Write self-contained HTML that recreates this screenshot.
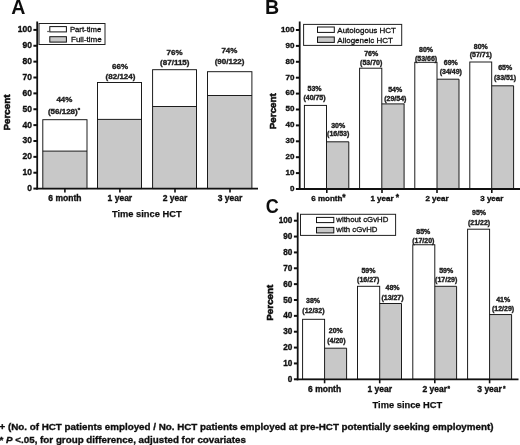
<!DOCTYPE html>
<html><head><meta charset="utf-8"><title>Figure</title>
<style>
html,body{margin:0;padding:0;background:#fff;}
body{width:520px;height:445px;overflow:hidden;font-family:"Liberation Sans",sans-serif;}
svg{display:block;font-family:"Liberation Sans",sans-serif;}
.tk{font-size:8.5px;font-weight:bold;fill:#111;stroke:#111;stroke-width:0.35px;}
.ax{font-size:9.3px;font-weight:bold;fill:#111;stroke:#111;stroke-width:0.25px;}
.pc{font-size:9.8px;stroke-width:0.55px;}
.vl{font-size:8px;font-weight:bold;fill:#1c1c1c;stroke:#1c1c1c;stroke-width:0.38px;}
.vs{font-size:7.0px;font-weight:bold;fill:#1c1c1c;stroke:#1c1c1c;stroke-width:0.38px;}
.lg{font-size:8px;fill:#111;stroke:#111;stroke-width:0.3px;}
.pn{font-size:19.6px;font-weight:bold;fill:#111;}
.fn{font-size:9.8px;font-weight:bold;fill:#111;stroke:#111;stroke-width:0.35px;}
</style></head><body>
<svg width="520" height="445" viewBox="0 0 520 445">
<defs><filter id="soft" x="0" y="0" width="520" height="445" filterUnits="userSpaceOnUse"><feGaussianBlur stdDeviation="0.22"/></filter></defs>
<rect width="520" height="445" fill="#fff"/>
<g>
<rect x="42.8" y="151.1" width="44.20" height="37.50" fill="#c8c8c8"/>
<rect x="42.8" y="119.7" width="44.20" height="68.90" fill="none" stroke="#111" stroke-width="0.95"/>
<line x1="42.8" y1="151.1" x2="87.0" y2="151.1" stroke="#111" stroke-width="0.95"/>
<rect x="97.5" y="119.4" width="44.00" height="69.20" fill="#c8c8c8"/>
<rect x="97.5" y="82.5" width="44.00" height="106.10" fill="none" stroke="#111" stroke-width="0.95"/>
<line x1="97.5" y1="119.4" x2="141.5" y2="119.4" stroke="#111" stroke-width="0.95"/>
<rect x="152.6" y="106.5" width="43.90" height="82.10" fill="#c8c8c8"/>
<rect x="152.6" y="69.7" width="43.90" height="118.90" fill="none" stroke="#111" stroke-width="0.95"/>
<line x1="152.6" y1="106.5" x2="196.5" y2="106.5" stroke="#111" stroke-width="0.95"/>
<rect x="207.5" y="95.5" width="44.40" height="93.10" fill="#c8c8c8"/>
<rect x="207.5" y="71.7" width="44.40" height="116.90" fill="none" stroke="#111" stroke-width="0.95"/>
<line x1="207.5" y1="95.5" x2="251.9" y2="95.5" stroke="#111" stroke-width="0.95"/>
<line x1="37.2" y1="21.5" x2="37.2" y2="189.5" stroke="#111" stroke-width="1.8"/>
<line x1="36.300000000000004" y1="188.6" x2="258" y2="188.6" stroke="#111" stroke-width="1.8"/>
<line x1="33.400000000000006" y1="188.60" x2="37.2" y2="188.60" stroke="#111" stroke-width="2"/>
<line x1="33.400000000000006" y1="172.73" x2="37.2" y2="172.73" stroke="#111" stroke-width="2"/>
<line x1="33.400000000000006" y1="156.86" x2="37.2" y2="156.86" stroke="#111" stroke-width="2"/>
<line x1="33.400000000000006" y1="140.99" x2="37.2" y2="140.99" stroke="#111" stroke-width="2"/>
<line x1="33.400000000000006" y1="125.12" x2="37.2" y2="125.12" stroke="#111" stroke-width="2"/>
<line x1="33.400000000000006" y1="109.25" x2="37.2" y2="109.25" stroke="#111" stroke-width="2"/>
<line x1="33.400000000000006" y1="93.38" x2="37.2" y2="93.38" stroke="#111" stroke-width="2"/>
<line x1="33.400000000000006" y1="77.51" x2="37.2" y2="77.51" stroke="#111" stroke-width="2"/>
<line x1="33.400000000000006" y1="61.64" x2="37.2" y2="61.64" stroke="#111" stroke-width="2"/>
<line x1="33.400000000000006" y1="45.77" x2="37.2" y2="45.77" stroke="#111" stroke-width="2"/>
<line x1="33.400000000000006" y1="29.90" x2="37.2" y2="29.90" stroke="#111" stroke-width="2"/>
<line x1="64.9" y1="188.6" x2="64.9" y2="192.6" stroke="#111" stroke-width="1.6"/>
<line x1="119.9" y1="188.6" x2="119.9" y2="192.6" stroke="#111" stroke-width="1.6"/>
<line x1="175.0" y1="188.6" x2="175.0" y2="192.6" stroke="#111" stroke-width="1.6"/>
<line x1="230.0" y1="188.6" x2="230.0" y2="192.6" stroke="#111" stroke-width="1.6"/>
<rect x="39.0" y="23.5" width="66" height="21" fill="#fff" stroke="#222" stroke-width="1"/>
<rect x="49.8" y="26.6" width="16.6" height="5.3" fill="#fff" stroke="#111" stroke-width="1"/>
<rect x="49.8" y="36.7" width="16.6" height="5.4" fill="#c8c8c8" stroke="#111" stroke-width="1"/>
<rect x="47.4" y="30.9" width="1.3" height="1.2" fill="#222"/>
<rect x="326.5" y="141.8" width="22.30" height="47.20" fill="#c8c8c8"/><rect x="304.4" y="105.4" width="22.10" height="83.60" fill="none" stroke="#111" stroke-width="0.95"/><path d="M326.5 141.8 H348.8 V189.0" fill="none" stroke="#111" stroke-width="0.95"/>
<rect x="381.8" y="103.9" width="22.30" height="85.10" fill="#c8c8c8"/><rect x="359.6" y="68.2" width="22.20" height="120.80" fill="none" stroke="#111" stroke-width="0.95"/><path d="M381.8 103.9 H404.1 V189.0" fill="none" stroke="#111" stroke-width="0.95"/>
<rect x="437.0" y="79.2" width="22.00" height="109.80" fill="#c8c8c8"/><rect x="414.8" y="62.3" width="22.20" height="126.70" fill="none" stroke="#111" stroke-width="0.95"/><path d="M437.0 79.2 H459.0 V189.0" fill="none" stroke="#111" stroke-width="0.95"/>
<rect x="491.7" y="85.8" width="21.90" height="103.20" fill="#c8c8c8"/><rect x="469.8" y="62.0" width="21.90" height="127.00" fill="none" stroke="#111" stroke-width="0.95"/><path d="M491.7 85.8 H513.6 V189.0" fill="none" stroke="#111" stroke-width="0.95"/>
<line x1="299.7" y1="21.5" x2="299.7" y2="189.9" stroke="#111" stroke-width="1.8"/>
<line x1="298.8" y1="189.0" x2="520" y2="189.0" stroke="#111" stroke-width="1.8"/>
<line x1="295.9" y1="189.00" x2="299.7" y2="189.00" stroke="#111" stroke-width="2"/>
<line x1="295.9" y1="173.10" x2="299.7" y2="173.10" stroke="#111" stroke-width="2"/>
<line x1="295.9" y1="157.20" x2="299.7" y2="157.20" stroke="#111" stroke-width="2"/>
<line x1="295.9" y1="141.30" x2="299.7" y2="141.30" stroke="#111" stroke-width="2"/>
<line x1="295.9" y1="125.40" x2="299.7" y2="125.40" stroke="#111" stroke-width="2"/>
<line x1="295.9" y1="109.50" x2="299.7" y2="109.50" stroke="#111" stroke-width="2"/>
<line x1="295.9" y1="93.60" x2="299.7" y2="93.60" stroke="#111" stroke-width="2"/>
<line x1="295.9" y1="77.70" x2="299.7" y2="77.70" stroke="#111" stroke-width="2"/>
<line x1="295.9" y1="61.80" x2="299.7" y2="61.80" stroke="#111" stroke-width="2"/>
<line x1="295.9" y1="45.90" x2="299.7" y2="45.90" stroke="#111" stroke-width="2"/>
<line x1="295.9" y1="30.00" x2="299.7" y2="30.00" stroke="#111" stroke-width="2"/>
<line x1="326.8" y1="189.0" x2="326.8" y2="193.0" stroke="#111" stroke-width="1.6"/>
<line x1="382" y1="189.0" x2="382" y2="193.0" stroke="#111" stroke-width="1.6"/>
<line x1="437" y1="189.0" x2="437" y2="193.0" stroke="#111" stroke-width="1.6"/>
<line x1="491.8" y1="189.0" x2="491.8" y2="193.0" stroke="#111" stroke-width="1.6"/>
<rect x="303.6" y="24.4" width="98.1" height="21" fill="#fff" stroke="#222" stroke-width="1"/>
<rect x="317.5" y="27" width="16.8" height="5.4" fill="#fff" stroke="#111" stroke-width="1"/>
<rect x="317.5" y="37" width="16.8" height="5.4" fill="#c8c8c8" stroke="#111" stroke-width="1"/>
<rect x="324.6" y="348.2" width="22.00" height="31.10" fill="#c8c8c8"/><rect x="302.6" y="319.3" width="22.00" height="60.00" fill="none" stroke="#111" stroke-width="0.95"/><path d="M324.6 348.2 H346.6 V379.3" fill="none" stroke="#111" stroke-width="0.95"/>
<rect x="379.7" y="303.5" width="21.80" height="75.80" fill="#c8c8c8"/><rect x="357.5" y="286.3" width="22.20" height="93.00" fill="none" stroke="#111" stroke-width="0.95"/><path d="M379.7 303.5 H401.5 V379.3" fill="none" stroke="#111" stroke-width="0.95"/>
<rect x="434.8" y="286.3" width="21.80" height="93.00" fill="#c8c8c8"/><rect x="412.8" y="244.75" width="22.00" height="134.55" fill="none" stroke="#111" stroke-width="0.95"/><path d="M434.8 286.3 H456.6 V379.3" fill="none" stroke="#111" stroke-width="0.95"/>
<rect x="489.6" y="314.55" width="22.00" height="64.75" fill="#c8c8c8"/><rect x="467.6" y="229.2" width="22.00" height="150.10" fill="none" stroke="#111" stroke-width="0.95"/><path d="M489.6 314.55 H511.6 V379.3" fill="none" stroke="#111" stroke-width="0.95"/>
<line x1="297.7" y1="212.5" x2="297.7" y2="380.2" stroke="#111" stroke-width="1.8"/>
<line x1="296.8" y1="379.3" x2="518.5" y2="379.3" stroke="#111" stroke-width="1.8"/>
<line x1="293.9" y1="379.30" x2="297.7" y2="379.30" stroke="#111" stroke-width="2"/>
<line x1="293.9" y1="363.44" x2="297.7" y2="363.44" stroke="#111" stroke-width="2"/>
<line x1="293.9" y1="347.58" x2="297.7" y2="347.58" stroke="#111" stroke-width="2"/>
<line x1="293.9" y1="331.72" x2="297.7" y2="331.72" stroke="#111" stroke-width="2"/>
<line x1="293.9" y1="315.86" x2="297.7" y2="315.86" stroke="#111" stroke-width="2"/>
<line x1="293.9" y1="300.00" x2="297.7" y2="300.00" stroke="#111" stroke-width="2"/>
<line x1="293.9" y1="284.14" x2="297.7" y2="284.14" stroke="#111" stroke-width="2"/>
<line x1="293.9" y1="268.28" x2="297.7" y2="268.28" stroke="#111" stroke-width="2"/>
<line x1="293.9" y1="252.42" x2="297.7" y2="252.42" stroke="#111" stroke-width="2"/>
<line x1="293.9" y1="236.56" x2="297.7" y2="236.56" stroke="#111" stroke-width="2"/>
<line x1="293.9" y1="220.70" x2="297.7" y2="220.70" stroke="#111" stroke-width="2"/>
<line x1="324.6" y1="379.3" x2="324.6" y2="383.3" stroke="#111" stroke-width="1.6"/>
<line x1="379.7" y1="379.3" x2="379.7" y2="383.3" stroke="#111" stroke-width="1.6"/>
<line x1="434.8" y1="379.3" x2="434.8" y2="383.3" stroke="#111" stroke-width="1.6"/>
<line x1="489.6" y1="379.3" x2="489.6" y2="383.3" stroke="#111" stroke-width="1.6"/>
<rect x="300.5" y="214.3" width="95.1" height="21.1" fill="#fff" stroke="#222" stroke-width="1"/>
<rect x="316.5" y="217.4" width="17.3" height="5.2" fill="#fff" stroke="#111" stroke-width="1"/>
<rect x="316.5" y="227.4" width="17.3" height="5.5" fill="#c8c8c8" stroke="#111" stroke-width="1"/>
</g>
<g filter="url(#soft)">
<text class="tk" style="font-size:8.5px" x="31.900000000000002" y="191.10" text-anchor="end">0</text>
<text class="tk" style="font-size:8.5px" x="31.900000000000002" y="175.23" text-anchor="end">10</text>
<text class="tk" style="font-size:8.5px" x="31.900000000000002" y="159.36" text-anchor="end">20</text>
<text class="tk" style="font-size:8.5px" x="31.900000000000002" y="143.49" text-anchor="end">30</text>
<text class="tk" style="font-size:8.5px" x="31.900000000000002" y="127.62" text-anchor="end">40</text>
<text class="tk" style="font-size:8.5px" x="31.900000000000002" y="111.75" text-anchor="end">50</text>
<text class="tk" style="font-size:8.5px" x="31.900000000000002" y="95.88" text-anchor="end">60</text>
<text class="tk" style="font-size:8.5px" x="31.900000000000002" y="80.01" text-anchor="end">70</text>
<text class="tk" style="font-size:8.5px" x="31.900000000000002" y="64.14" text-anchor="end">80</text>
<text class="tk" style="font-size:8.5px" x="31.900000000000002" y="48.27" text-anchor="end">90</text>
<text class="tk" style="font-size:8.5px" x="31.900000000000002" y="32.40" text-anchor="end">100</text>
<text class="tk" style="font-size:8.5px" x="64.9" y="201.0" text-anchor="middle">6 month</text>
<text class="tk" style="font-size:8.5px" x="119.9" y="201.0" text-anchor="middle">1 year</text>
<text class="tk" style="font-size:8.5px" x="175.0" y="201.0" text-anchor="middle">2 year</text>
<text class="tk" style="font-size:8.5px" x="230.0" y="201.0" text-anchor="middle">3 year</text>
<text class="vl" x="64.4" y="102.46" text-anchor="middle">44%</text>
<text class="vl" x="64.0" y="114.16" text-anchor="middle">(56/128)<tspan dy="-2.4" font-size="6">*</tspan></text>
<text class="vl" x="120.1" y="68.56" text-anchor="middle">66%</text>
<text class="vl" x="120.5" y="78.76" text-anchor="middle">(82/124)</text>
<text class="vl" x="174.5" y="55.46" text-anchor="middle">76%</text>
<text class="vl" x="174.8" y="65.46" text-anchor="middle">(87/115)</text>
<text class="vl" x="229.4" y="53.31" text-anchor="middle">74%</text>
<text class="vl" x="229.6" y="63.51" text-anchor="middle">(90/122)</text>
<text class="lg" style="font-size:7.75px" x="69.9" y="32.3">Part-time</text>
<text class="lg" x="71" y="42.4">Full-time</text>
<text class="ax" x="146.8" y="217.2" text-anchor="middle">Time since HCT</text>
<text class="ax pc" transform="translate(10.4,112.5) rotate(-90)" text-anchor="middle">Percent</text>
<text class="pn" x="11.2" y="13.6">A</text>
<text class="tk" style="font-size:8.0px" x="294.4" y="190.80" text-anchor="end">0</text>
<text class="tk" style="font-size:8.0px" x="294.4" y="174.90" text-anchor="end">10</text>
<text class="tk" style="font-size:8.0px" x="294.4" y="159.00" text-anchor="end">20</text>
<text class="tk" style="font-size:8.0px" x="294.4" y="143.10" text-anchor="end">30</text>
<text class="tk" style="font-size:8.0px" x="294.4" y="127.20" text-anchor="end">40</text>
<text class="tk" style="font-size:8.0px" x="294.4" y="111.30" text-anchor="end">50</text>
<text class="tk" style="font-size:8.0px" x="294.4" y="95.40" text-anchor="end">60</text>
<text class="tk" style="font-size:8.0px" x="294.4" y="79.50" text-anchor="end">70</text>
<text class="tk" style="font-size:8.0px" x="294.4" y="63.60" text-anchor="end">80</text>
<text class="tk" style="font-size:8.0px" x="294.4" y="47.70" text-anchor="end">90</text>
<text class="tk" style="font-size:8.0px" x="294.4" y="31.80" text-anchor="end">100</text>
<text class="tk" style="font-size:8.0px" x="326.8" y="201.2" text-anchor="middle">6 month</text>
<text class="tk" style="font-size:8.0px" x="382" y="201.2" text-anchor="middle">1 year</text>
<text class="tk" style="font-size:8.0px" x="437" y="201.2" text-anchor="middle">2 year</text>
<text class="tk" style="font-size:8.0px" x="491.8" y="201.2" text-anchor="middle">3 year</text>
<text class="tk" style="font-size:8.5px" x="344" y="199.6" text-anchor="middle">*</text>
<text class="tk" style="font-size:8.5px" x="397.3" y="199.6" text-anchor="middle">*</text>
<text class="vs" x="314.5" y="91.21" text-anchor="middle">53%</text>
<text class="vs" x="314.5" y="99.86" text-anchor="middle">(40/75)</text>
<text class="vs" x="338.2" y="127.61" text-anchor="middle">30%</text>
<text class="vs" x="338.2" y="135.91" text-anchor="middle">(16/53)</text>
<text class="vs" x="371.2" y="56.36" text-anchor="middle">76%</text>
<text class="vs" x="371.2" y="65.41" text-anchor="middle">(53/70)</text>
<text class="vs" x="395.2" y="92.01" text-anchor="middle">54%</text>
<text class="vs" x="395.3" y="100.56" text-anchor="middle">(29/54)</text>
<text class="vs" x="426.1" y="51.71" text-anchor="middle">80%</text>
<text class="vs" x="426.1" y="60.61" text-anchor="middle">(53/66)</text>
<text class="vs" x="450.8" y="65.21" text-anchor="middle">69%</text>
<text class="vs" x="450.8" y="74.41" text-anchor="middle">(34/49)</text>
<text class="vs" x="480.8" y="48.81" text-anchor="middle">80%</text>
<text class="vs" x="480.8" y="57.41" text-anchor="middle">(57/71)</text>
<text class="vs" x="505.2" y="70.36" text-anchor="middle">65%</text>
<text class="vs" x="505.0" y="79.61" text-anchor="middle">(33/51)</text>
<text class="lg" x="337.3" y="32.7">Autologous HCT</text>
<text class="lg" x="337.3" y="42.7">Allogeneic HCT</text>
<text class="ax pc" transform="translate(276.0,111.2) rotate(-90)" text-anchor="middle">Percent</text>
<text class="pn" x="265" y="13.8">B</text>
<text class="tk" style="font-size:8.2px" x="292.4" y="381.80" text-anchor="end">0</text>
<text class="tk" style="font-size:8.2px" x="292.4" y="365.94" text-anchor="end">10</text>
<text class="tk" style="font-size:8.2px" x="292.4" y="350.08" text-anchor="end">20</text>
<text class="tk" style="font-size:8.2px" x="292.4" y="334.22" text-anchor="end">30</text>
<text class="tk" style="font-size:8.2px" x="292.4" y="318.36" text-anchor="end">40</text>
<text class="tk" style="font-size:8.2px" x="292.4" y="302.50" text-anchor="end">50</text>
<text class="tk" style="font-size:8.2px" x="292.4" y="286.64" text-anchor="end">60</text>
<text class="tk" style="font-size:8.2px" x="292.4" y="270.78" text-anchor="end">70</text>
<text class="tk" style="font-size:8.2px" x="292.4" y="254.92" text-anchor="end">80</text>
<text class="tk" style="font-size:8.2px" x="292.4" y="239.06" text-anchor="end">90</text>
<text class="tk" style="font-size:8.2px" x="292.4" y="223.20" text-anchor="end">100</text>
<text class="tk" style="font-size:8.5px" x="324.6" y="391.7" text-anchor="middle">6 month</text>
<text class="tk" style="font-size:8.5px" x="379.7" y="391.7" text-anchor="middle">1 year</text>
<text class="tk" style="font-size:8.5px" x="434.8" y="391.7" text-anchor="middle">2 year</text>
<text class="tk" style="font-size:8.5px" x="489.6" y="391.7" text-anchor="middle">3 year</text>
<text class="tk" style="font-size:6.5px" x="448.8" y="391.1" text-anchor="middle">*</text>
<text class="tk" style="font-size:6.5px" x="504.2" y="391.1" text-anchor="middle">*</text>
<text class="vs" x="313" y="303.46" text-anchor="middle">38%</text>
<text class="vs" x="313.4" y="313.11" text-anchor="middle">(12/32)</text>
<text class="vs" x="335.8" y="333.41" text-anchor="middle">20%</text>
<text class="vs" x="336.4" y="342.81" text-anchor="middle">(4/20)</text>
<text class="vs" x="368.4" y="273.46" text-anchor="middle">59%</text>
<text class="vs" x="368.2" y="282.11" text-anchor="middle">(16/27)</text>
<text class="vs" x="392.5" y="290.31" text-anchor="middle">48%</text>
<text class="vs" x="392.5" y="299.71" text-anchor="middle">(13/27)</text>
<text class="vs" x="423.3" y="234.06" text-anchor="middle">85%</text>
<text class="vs" x="423.3" y="242.81" text-anchor="middle">(17/20)</text>
<text class="vs" x="446.2" y="272.81" text-anchor="middle">59%</text>
<text class="vs" x="446.2" y="281.71" text-anchor="middle">(17/29)</text>
<text class="vs" x="479.0" y="214.96" text-anchor="middle">95%</text>
<text class="vs" x="479.05" y="225.06" text-anchor="middle">(21/22)</text>
<text class="vs" x="503.15" y="301.76" text-anchor="middle">41%</text>
<text class="vs" x="503.05" y="310.96" text-anchor="middle">(12/29)</text>
<text class="lg" style="font-size:7.8px" x="336.3" y="222.4">without cGvHD</text>
<text class="lg" style="font-size:7.8px" x="336.3" y="232.4">with cGvHD</text>
<text class="ax pc" transform="translate(273.1,302.7) rotate(-90)" text-anchor="middle">Percent</text>
<text class="ax" x="407.4" y="408.3" text-anchor="middle">Time since HCT</text>
<text class="pn" transform="translate(265.8,213.2) scale(0.92,1)">C</text>
<text class="fn" x="-0.5" y="430.3">+ (No. of HCT patients employed / No. HCT patients employed at pre-HCT potentially seeking employment)</text>
<text class="fn" x="-0.5" y="443.0">* <tspan font-style="italic">P</tspan> &lt;.05, for group difference, adjusted for covariates</text>
</g>
</svg></body></html>
